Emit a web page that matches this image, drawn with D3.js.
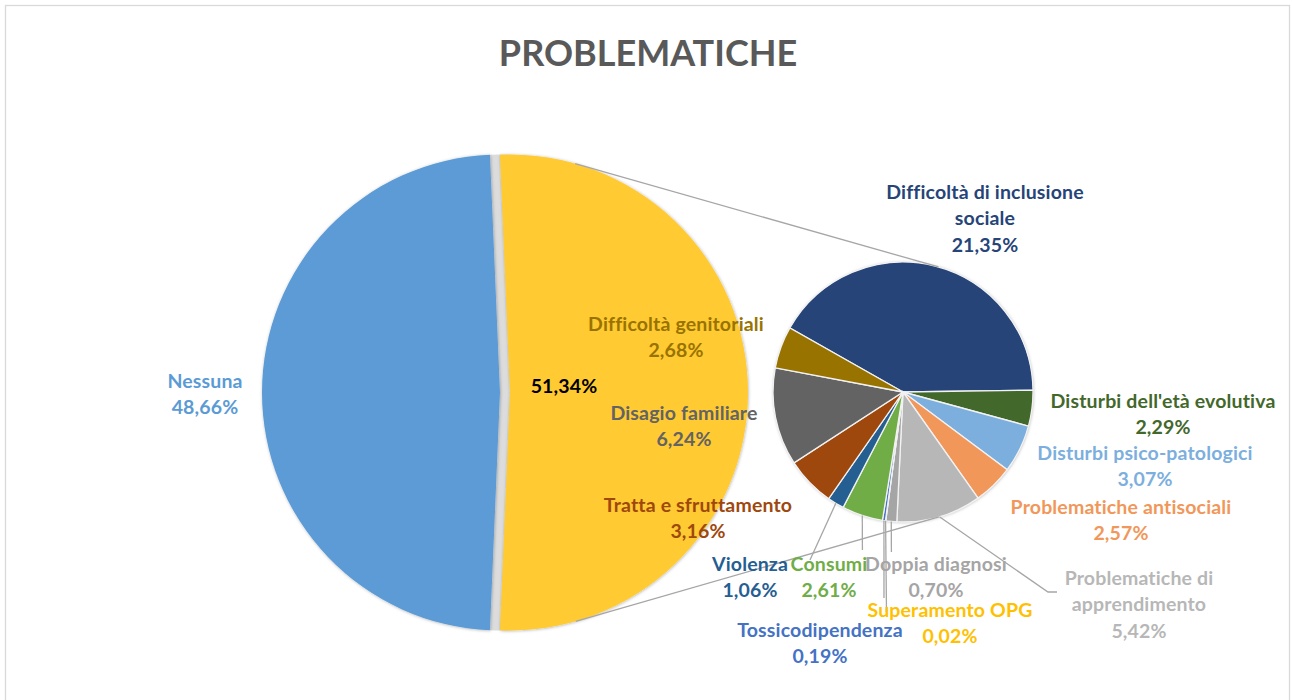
<!DOCTYPE html>
<html lang="it">
<head>
<meta charset="UTF-8">
<title>Problematiche</title>
<script src="https://d3js.org/d3.v7.min.js"></script>
<style>
  body { margin: 0; background: #fff; }
  svg text { font-family: Lato, "Open Sans", sans-serif; font-weight: bold; }
</style>
</head>
<body>
<div id="chart"></div>
<script>
// dati del primo grafico (torta principale)
var mainCats = ["Nessuna", "Altro"];
var mainVals = [48.66, 51.34];
var mainColors = ["#5B9BD5", "#FFCA33"];

// dati della seconda torta (dettaglio di "Altro"), in senso orario
var subCats = [
  "Difficoltà di inclusione sociale",
  "Disturbi dell'età evolutiva",
  "Disturbi psico-patologici",
  "Problematiche antisociali",
  "Problematiche di apprendimento",
  "Doppia diagnosi",
  "Superamento OPG",
  "Tossicodipendenza",
  "Consumi",
  "Violenza",
  "Tratta e sfruttamento",
  "Disagio familiare",
  "Difficoltà genitoriali"
];
var subVals = [21.35, 2.29, 3.07, 2.57, 5.42, 0.70, 0.02, 0.19, 2.61, 1.06, 3.16, 6.24, 2.68];
var subLabels = [
  ["Difficoltà di inclusione", "sociale", "21,35%"],
  ["Disturbi dell'età evolutiva", "2,29%"],
  ["Disturbi psico-patologici", "3,07%"],
  ["Problematiche antisociali", "2,57%"],
  ["Problematiche di", "apprendimento", "5,42%"],
  ["Doppia diagnosi", "0,70%"],
  ["Superamento OPG", "0,02%"],
  ["Tossicodipendenza", "0,19%"],
  ["Consumi", "2,61%"],
  ["Violenza", "1,06%"],
  ["Tratta e sfruttamento", "3,16%"],
  ["Disagio familiare", "6,24%"],
  ["Difficoltà genitoriali", "2,68%"]
];
var subColors = ["#264478", "#43682B", "#7CAFDD", "#F1975A", "#B7B7B7", "#A5A5A5",
                 "#FFC000", "#4472C4", "#70AD47", "#255E91", "#9E480E", "#636363", "#997300"];

// posizioni delle etichette (centro della prima riga) e punti finali delle linee guida
var labelPos = [
  [985, 192], [1163, 401], [1145, 453], [1121, 507], [1139, 578], [936, 564],
  [950, 610], [820, 630], [829, 564], [750, 564], [698, 505], [684, 413], [676, 324]
];
var leaderEnd = {
  4: [[1048, 592], [1057, 592]],
  5: [[891.4, 552]],
  6: [[886.5, 612]],
  7: [[884, 598]],
  8: [[862.4, 550]],
  9: [[810, 560]]
};

var W = 1292, H = 700;
var lineH = 26.5;

var svg = d3.select("#chart").append("svg")
  .attr("width", W).attr("height", H);

var defs = svg.append("defs");
defs.append("filter").attr("id", "shadow")
  .attr("x", "-10%").attr("y", "-10%").attr("width", "120%").attr("height", "120%")
  .append("feDropShadow")
    .attr("dx", 0.5).attr("dy", 0.5).attr("stdDeviation", 1.8)
    .attr("flood-color", "#000").attr("flood-opacity", 0.3);

// cornice
svg.append("rect")
  .attr("x", 5.5).attr("y", 5.5).attr("width", 1284).attr("height", 710)
  .attr("fill", "none").attr("stroke", "#D9D9D9").attr("stroke-width", 1.3);

// titolo
svg.append("text")
  .attr("x", 648).attr("y", 66)
  .attr("text-anchor", "middle")
  .attr("fill", "#595959")
  .style("font-size", "36px")
  .text("PROBLEMATICHE");

// torta principale
var c1 = {x: 500, y: 392.5, r: 238};
var explode = 10;
var total1 = d3.sum(mainVals);
var aOther = mainVals[1] / total1 * 2 * Math.PI;
var aNone = mainVals[0] / total1 * 2 * Math.PI;
// "Altro" centrato a destra (pi/2)
var start1 = Math.PI / 2 - aOther / 2 - aNone;

var pie1 = d3.pie().sort(null).value(function(d) { return d; })
  .startAngle(start1).endAngle(start1 + 2 * Math.PI);
var arcs1 = pie1(mainVals);
var arc1 = d3.arc().innerRadius(0).outerRadius(c1.r);

var g1 = svg.append("g").attr("transform", "translate(" + c1.x + "," + c1.y + ")");

// fondo grigio dello spazio tra le fette
g1.append("path")
  .attr("d", arc1(arcs1[1]))
  .attr("fill", "#DCDCDC");

g1.selectAll("path.slice")
  .data(arcs1)
  .enter().append("path")
    .attr("class", "slice")
    .attr("d", arc1)
    .attr("fill", function(d, i) { return mainColors[i]; })
    .attr("filter", "url(#shadow)")
    .attr("transform", function(d, i) {
      if (i === 0) return null;
      var m = (d.startAngle + d.endAngle) / 2;
      return "translate(" + (explode * Math.sin(m)) + "," + (-explode * Math.cos(m)) + ")";
    });

// torta secondaria
var c2 = {x: 903, y: 392, r: 130};
var start2 = -60.5 * Math.PI / 180;
var pie2 = d3.pie().sort(null).value(function(d) { return d; })
  .startAngle(start2).endAngle(start2 + 2 * Math.PI);
var arcs2 = pie2(subVals);
var arc2 = d3.arc().innerRadius(0).outerRadius(c2.r);

var g2 = svg.append("g").attr("transform", "translate(" + c2.x + "," + c2.y + ")");
g2.append("circle").attr("r", c2.r).attr("fill", "#fff").attr("filter", "url(#shadow)");
g2.selectAll("path")
  .data(arcs2)
  .enter().append("path")
    .attr("d", arc2)
    .attr("fill", function(d, i) { return subColors[i]; })
    .attr("stroke", "#F2F2F2")
    .attr("stroke-width", 1.3);

// linee di collegamento (tangenti esterne)
var p1 = {x: c1.x + explode, y: c1.y};
var dx = c2.x - p1.x, dy = c2.y - p1.y, dist = Math.sqrt(dx * dx + dy * dy);
var alpha = Math.atan2(dy, dx), beta = Math.acos((c1.r - c2.r) / dist);
[-1, 1].forEach(function(s) {
  var nx = Math.cos(alpha + s * beta), ny = Math.sin(alpha + s * beta);
  svg.append("line")
    .attr("x1", p1.x + c1.r * nx).attr("y1", p1.y + c1.r * ny)
    .attr("x2", c2.x + c2.r * nx).attr("y2", c2.y + c2.r * ny)
    .attr("stroke", "#A6A6A6").attr("stroke-width", 1.3);
});

// linee guida
Object.keys(leaderEnd).forEach(function(k) {
  var d = arcs2[k];
  var m = (d.startAngle + d.endAngle) / 2;
  var pts = [[c2.x + c2.r * Math.sin(m), c2.y - c2.r * Math.cos(m)]].concat(leaderEnd[k]);
  svg.append("path")
    .attr("d", d3.line()(pts))
    .attr("fill", "none")
    .attr("stroke", "#A6A6A6")
    .attr("stroke-width", 1.3);
});

// etichette
function multiLabel(x, y, lines, color) {
  var t = svg.append("text")
    .attr("text-anchor", "middle")
    .attr("fill", color)
    .style("font-size", "19.5px")
    .style("letter-spacing", "0.15px");
  lines.forEach(function(s, j) {
    t.append("tspan")
      .attr("x", x)
      .attr("y", y + j * lineH)
      .attr("dy", "0.35em")
      .text(s);
  });
}

subLabels.forEach(function(lines, i) {
  multiLabel(labelPos[i][0], labelPos[i][1], lines, subColors[i]);
});
multiLabel(205, 381, ["Nessuna", "48,66%"], mainColors[0]);
multiLabel(564, 386, ["51,34%"], "#000");
</script>
</body>
</html>
